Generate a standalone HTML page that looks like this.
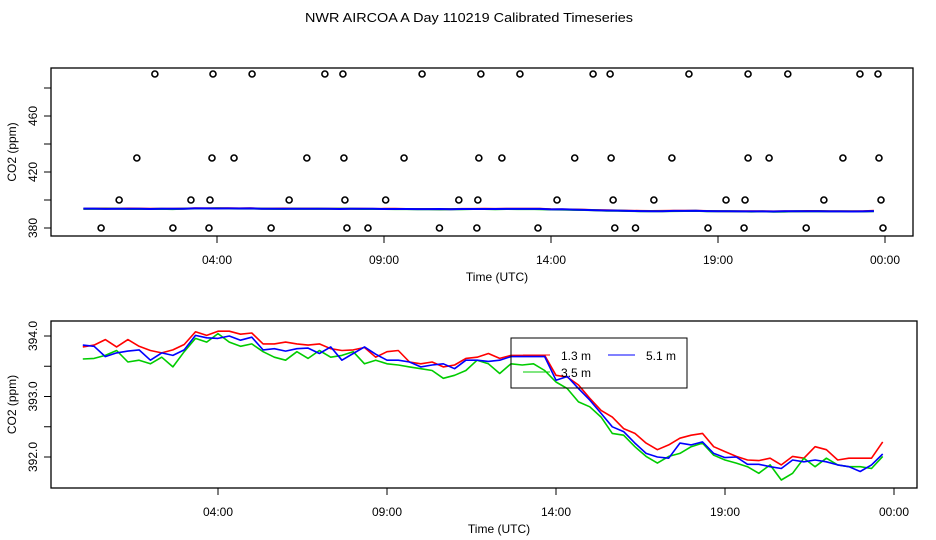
<!DOCTYPE html>
<html><head><meta charset="utf-8"><style>
html,body{margin:0;padding:0;background:#fff}
svg{display:block;font-family:"Liberation Sans",sans-serif}
</style></head><body>
<svg id="chart" width="936" height="540" viewBox="0 0 936 540" xmlns="http://www.w3.org/2000/svg">
<text x="305" y="22" font-size="12.5" textLength="328" lengthAdjust="spacingAndGlyphs">NWR AIRCOA A  Day 110219  Calibrated Timeseries</text>
<g id="topPanel"></g>
<g id="botPanel"></g>
</svg>
<script>
const hoursStep = 1/3;
const red = [393.82,393.85,393.94,393.82,393.94,393.83,393.76,393.72,393.77,393.86,394.07,394.01,394.08,394.08,394.03,394.05,393.87,393.87,393.9,393.87,393.85,393.87,393.79,393.76,393.77,393.81,393.65,393.74,393.76,393.57,393.54,393.57,393.49,393.52,393.63,
393.65,393.71,393.63,393.68,393.68,393.68,393.68,393.35,393.32,393.19,392.97,392.77,392.66,392.47,392.39,392.23,392.12,392.2,392.31,392.36,392.39,392.17,392.09,392.01,391.95,391.94,391.98,391.87,392.01,391.98,392.17,392.12,391.95,391.98,391.98,391.98,392.25];
const green = [393.62,393.63,393.68,393.76,393.57,393.6,393.54,393.65,393.49,393.74,393.96,393.9,394.04,393.9,393.83,393.87,393.74,393.65,393.6,393.74,393.63,393.76,393.65,393.68,393.74,393.54,393.6,393.54,393.52,393.49,393.46,393.43,393.3,393.35,393.43,
393.6,393.54,393.38,393.54,393.52,393.54,393.43,393.24,393.13,392.91,392.83,392.66,392.39,392.36,392.17,392.01,391.9,392.01,392.06,392.17,392.23,392.03,391.95,391.9,391.84,391.73,391.87,391.62,391.73,391.98,391.84,391.98,391.87,391.84,391.84,391.81,392.01];
const blue = [393.85,393.83,393.66,393.72,393.75,393.77,393.6,393.72,393.68,393.77,394.01,393.97,393.96,394.0,393.93,393.98,393.77,393.79,393.75,393.79,393.8,393.71,393.82,393.6,393.71,393.82,393.7,393.6,393.6,393.57,393.49,393.52,393.54,393.46,393.6,
393.6,393.58,393.6,393.66,393.66,393.66,393.66,393.27,393.33,393.13,392.94,392.72,392.5,392.42,392.23,392.06,392.0,391.98,392.23,392.2,392.25,392.06,391.99,392.0,391.88,391.88,391.84,391.81,391.95,391.92,391.95,391.92,391.87,391.84,391.76,391.87,392.05];
const flagValues = [490,430,400,380];
const flagHours490 = [2.14,3.88,5.05,7.23,7.77,10.14,11.90,13.07,15.26,15.77,18.13,19.90,21.09,23.25,23.79];
const flagHours430 = [1.60,3.85,4.51,6.69,7.80,9.60,11.84,12.53,14.71,15.80,17.62,19.90,20.53,22.74,23.82];
const flagHours400 = [1.07,3.22,3.79,6.16,7.83,9.05,11.24,11.81,14.18,15.86,17.08,19.24,19.81,22.17,23.88];
const flagHours380 = [0.53,2.68,3.76,5.62,7.89,8.52,10.66,11.78,13.61,15.91,16.53,18.70,19.78,21.64,23.94];
const xTickHours = [4,9,14,19,24];
const xTickLabels = ["04:00","09:00","14:00","19:00","00:00"];
const topYTicks = [380,400,420,440,460,480];
const topYLabels = ["380","","420","","460",""];
const botYTicks = [392,392.5,393,393.5,394];
const botYLabels = ["392.0","","393.0","","394.0"];
const legendLabels = ["1.3 m","3.5 m","5.1 m"];

const NS="http://www.w3.org/2000/svg";
function mk(parent,tag,attrs,text){const e=document.createElementNS(NS,tag);for(const k in attrs)e.setAttribute(k,attrs[k]);if(text!==undefined)e.textContent=text;parent.appendChild(e);return e;}

function panel(g, P, yTicks, yLabels, name){
  const xs=h=>P.x0+h*P.kx, ys=v=>P.yb-(v-P.v0)*P.ky;
  const box=mk(g,'rect',{x:P.L,y:P.T,width:P.R-P.L,height:P.B-P.T,fill:'none',stroke:'#000','stroke-width':1.3});
  
  
  xTickHours.forEach((h,i)=>{
    const t=mk(g,'line',{x1:xs(h),x2:xs(h),y1:P.B,y2:P.B+7,stroke:'#000'});
    
    
    const l=mk(g,'text',{x:xs(h),y:P.B+28,'font-size':12,'text-anchor':'middle'},xTickLabels[i]);
    
    
  });
  yTicks.forEach((v,i)=>{
    const y=ys(v);
    const t=mk(g,'line',{x1:P.L-7,x2:P.L,y1:y,y2:y,stroke:'#000'});
    
    
    if(yLabels[i]){
      const l=mk(g,'text',{x:0,y:0,'font-size':12,'text-anchor':'middle',transform:`translate(37,${y}) rotate(-90)`},yLabels[i]);
      
      
    }
  });
  const xt=mk(g,'text',{x:(P.L+P.R)/2+15,y:P.B+45,'font-size':12,'text-anchor':'middle'},'Time (UTC)');
  
  
  const yt=mk(g,'text',{x:0,y:0,'font-size':12,'text-anchor':'middle',transform:`translate(16,${(P.T+P.B)/2}) rotate(-90)`},'CO2 (ppm)');
  
  
  [[red,'#ff0000','red'],[green,'#00cc00','green'],[blue,'#0000ff','blue']].forEach(([arr,c,n])=>{
    const d=arr.map((v,i)=>(i?'L':'M')+xs(i*hoursStep).toFixed(1)+' '+ys(v).toFixed(1)).join(' ');
    const p=mk(g,'path',{d,fill:'none',stroke:c,'stroke-width':P.sw,'stroke-linejoin':'round'});
    
    
  });
  return {xs,ys};
}

const topG = document.getElementById('topPanel');
const TP = panel(topG,{L:51,R:913,T:68,B:236,x0:83.4,kx:33.4,yb:228,v0:380,ky:1.4,sw:2},topYTicks,topYLabels,'top');
[flagHours490,flagHours430,flagHours400,flagHours380].forEach((hs,k)=>{
  hs.forEach(h=>{
    const c=mk(topG,'circle',{cx:TP.xs(h),cy:TP.ys(flagValues[k]),r:3,fill:'none',stroke:'#000','stroke-width':1.6});
    
    
  });
});

const botG = document.getElementById('botPanel');
panel(botG,{L:51,R:917,T:321,B:488,x0:82.8,kx:33.8,yb:457,v0:392,ky:60.5,sw:1.6},botYTicks,botYLabels,'bottom');
const lg=mk(botG,'g',{});


mk(lg,'rect',{x:511,y:338,width:176,height:50,fill:'none',stroke:'#000','stroke-width':1});
const entries=[[523,355,legendLabels[0],'#ff0000'],[523,372,legendLabels[1],'#00cc00'],[608,355,legendLabels[2],'#0000ff']];
entries.forEach(([x,y,t,c])=>{
  const e=mk(lg,'g',{});
  
  
  mk(e,'line',{x1:x,x2:x+27,y1:y,y2:y,stroke:c,'stroke-width':1});
  mk(e,'text',{x:x+38,y:y+5,'font-size':12},t);
});
</script>
</body></html>
